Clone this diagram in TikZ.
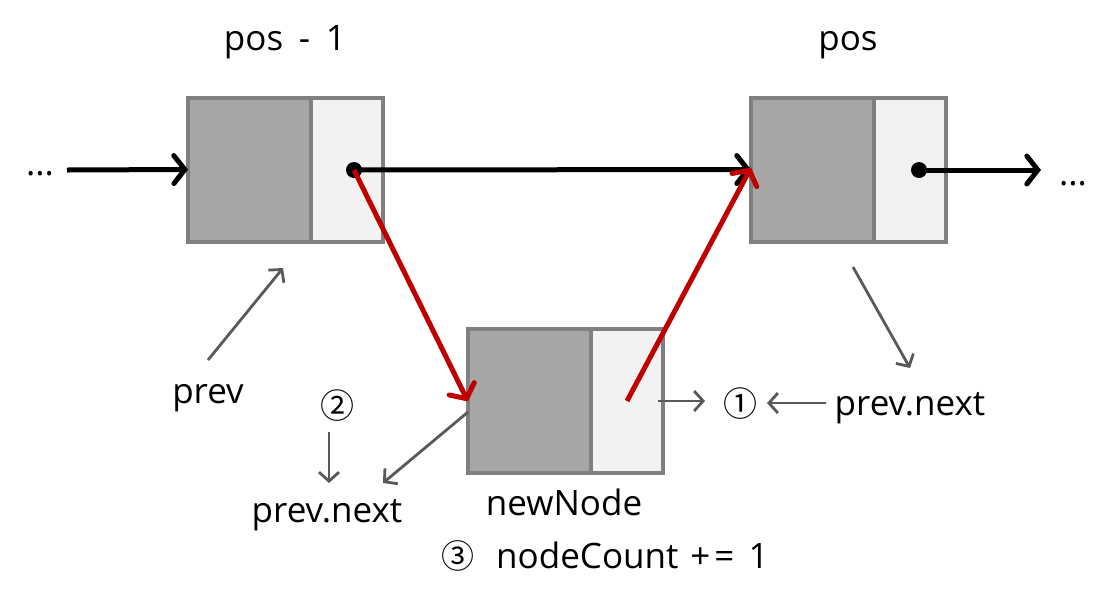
\documentclass[tikz,border=0pt]{standalone}
\usepackage{fontspec}
\setmainfont{Open Sans}
\newfontfamily\cjk{Noto Sans CJK KR}
\usetikzlibrary{arrows.meta}
\definecolor{boxline}{HTML}{808080}
\definecolor{darkfill}{HTML}{A6A6A6}
\definecolor{lightfill}{HTML}{F2F2F2}
\definecolor{redarrow}{HTML}{C00000}
\definecolor{grayarrow}{HTML}{595959}
\tikzset{
  darkcell/.style={draw=boxline, fill=darkfill, line width=4pt, minimum width=123pt, minimum height=144pt, inner sep=0pt, outer sep=0pt},
  lightcell/.style={draw=boxline, fill=lightfill, line width=4pt, minimum width=72pt, minimum height=144pt, inner sep=0pt, outer sep=0pt, anchor=west},
  blk/.style={line width=5pt, black, -{Straight Barb[length=11pt, width=28pt, line width=5pt, line cap=round]}},
  redar/.style={line width=5pt, redarrow, -{Straight Barb[length=11pt, width=28pt, line width=5pt, line cap=round]}},
  gar/.style={line width=2.8pt, grayarrow, -{Straight Barb[length=9pt, width=20pt, line width=2.8pt]}},
  lbl/.style={font=\fontsize{35}{40}\selectfont, inner sep=0pt, anchor=base},
  num/.style={font=\cjk\fontsize{34}{40}\selectfont, inner sep=0pt},
}
\begin{document}
\begin{tikzpicture}[x=1pt,y=-1pt]
\useasboundingbox (0,0) rectangle (1114,606);
% boxes
\node[darkcell] (b1d) at (249.5,169.5) {};
\node[lightcell] (b1l) at (b1d.east) {};
\node[darkcell] (b2d) at (812.5,169.5) {};
\node[lightcell] (b2l) at (b2d.east) {};
\node[darkcell] (b3d) at (529.5,400.5) {};
\node[lightcell] (b3l) at (b3d.east) {};
% dots
\coordinate (p1) at (354,170);
\coordinate (p2) at (919,170);
\coordinate (p3) at (627,401);
% labels
\node[lbl] (dl) at (40,175) {...};
\node[lbl] (dr) at (1073,185) {...};
\node[lbl] (pm1) at (285,50) {pos\hspace{0.45em}-\hspace{0.45em}1};
\node[lbl] (pos) at (848,50) {pos};
\node[lbl] (prev) at (208,403) {prev};
\node[lbl] (pn1) at (910,415) {prev.next};
\node[lbl] (pn2) at (327,522) {prev.next};
\node[lbl] (nn) at (564,515) {newNode};
\node[num] (c1) at (740,404) {①};
\node[num] (c2) at (337,406) {②};
\node[lbl, anchor=base west] (cnt) at (441,568) {{\cjk\fontsize{33}{40}\selectfont ③}\hspace{22pt}nodeCount\hspace{12pt}+\hspace{4pt}=\hspace{14pt}1};
% connectors
\coordinate (lin) at (67,170);
\coordinate (rout) at (1041,170);
\draw[blk] (lin) -- (b1d.west);
\draw[blk] (p1) -- (b2d.west);
\draw[blk] (p2) -- (rout);
\fill (p1) circle (8pt);
\fill (p2) circle (8pt);
\coordinate (r1end) at ([yshift=-1pt]b3d.west);
\coordinate (r2end) at ([yshift=2pt]b2d.west);
\draw[redar] (p1) -- (r1end);
\draw[redar] (p3) -- (r2end);
% gray arrows
\coordinate (g1s) at (208,360); \coordinate (g1e) at (283,268);
\draw[gar] (g1s) -- (g1e);
\coordinate (g2s) at (853,267); \coordinate (g2e) at (910,368);
\draw[gar] (g2s) -- (g2e);
\coordinate (g3s) at (658,401); \coordinate (g3e) at (705,401);
\draw[gar] (g3s) -- (g3e);
\coordinate (g4s) at (826,403); \coordinate (g4e) at (767,403);
\draw[gar] (g4s) -- (g4e);
\coordinate (g5s) at (329,432); \coordinate (g5e) at (329,483);
\draw[gar] (g5s) -- (g5e);
\coordinate (g6s) at (468,412); \coordinate (g6e) at (383,483);
\draw[gar] (g6s) -- (g6e);
\end{tikzpicture}
\end{document}
